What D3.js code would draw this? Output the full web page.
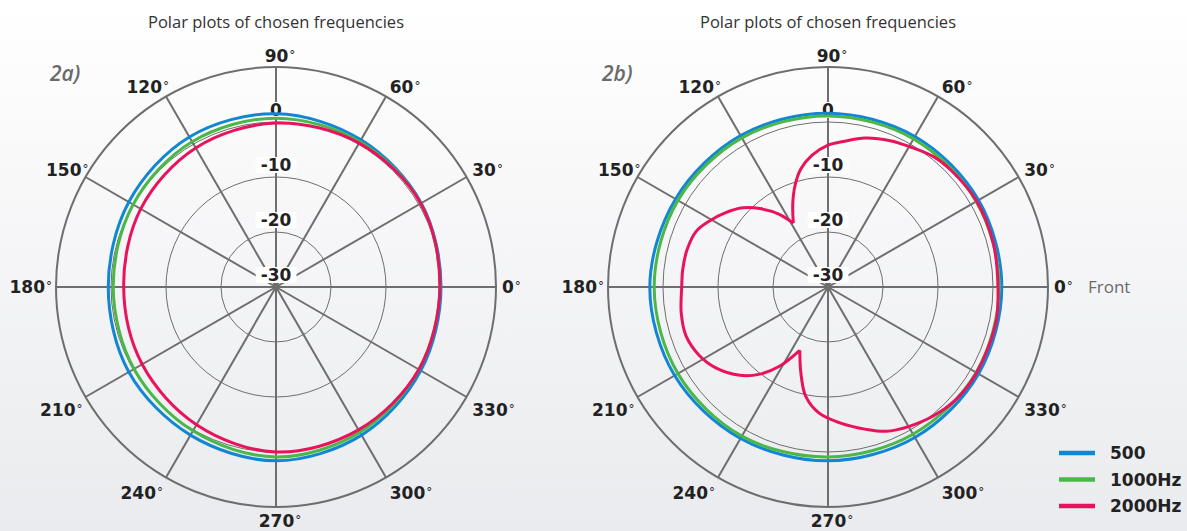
<!DOCTYPE html>
<html>
<head>
<meta charset="utf-8">
<script src="https://cdn.jsdelivr.net/npm/d3@7"></script>
<style>
  html, body { margin: 0; padding: 0; background: #fff; }
  svg { display: block; }
</style>
</head>
<body>
<svg id="chart" width="1187" height="531"></svg>
<script>
// ---------------- data ----------------
const seriesNames = ["500", "1000Hz", "2000Hz"];
const seriesColors = ["#1186d3", "#4bb748", "#e8135c"];

const angleTicks = [0, 30, 60, 90, 120, 150, 180, 210, 240, 270, 300, 330];
const dbRings = [-20, -10, 0, 10];          // drawn circles
const dbLabels = [0, -10, -20, -30];        // radial tick labels

// Plot 2a (all series sampled every 30 degrees)
const angles2a = [0, 30, 60, 90, 120, 150, 180, 210, 240, 270, 300, 330];
const blue2a  = [0.0, 0.5, 0.9, 1.5, 1.5, 0.9, 0.5, 0.9, 1.1, 1.6, 1.1, 0.4];
const green2a = [-0.2, 0.4, 0.5, 0.7, 0.5, 0.0, -0.4, -0.2, 0.2, 0.9, 0.5, 0.0];
const red2a   = [-0.2, 0.4, 0.2, -0.2, -0.8, -1.6, -2.3, -1.9, -1.1, 0.0, 0.0, 0.0];

// Plot 2b
const angles2b = [0, 30, 60, 90, 120, 150, 180, 210, 240, 270, 300, 330];
const blue2b  = [1.6, 1.6, 1.6, 1.6, 1.8, 2.0, 2.4, 2.2, 1.8, 1.6, 1.6, 1.6];
const green2b = [1.1, 1.1, 1.1, 1.1, 1.3, 1.5, 1.6, 1.5, 1.3, 0.9, 0.9, 1.1];
const redAngles2b = [0, 15, 30, 43, 51, 60, 67, 76, 84, 90, 97, 103, 108, 113, 118.5,
  124, 131, 137, 144, 151, 157, 165, 173, 180, 190, 199, 208, 216, 225, 232, 238.5, 246,
  252.5, 258.5, 266, 275, 285, 292, 300, 309, 319, 330, 348];
const red2b = [0.9, 1.1, 1.2, 0.85, 0.5, -0.5, -1.1, -2.1, -3.4, -4.2, -5.9, -8.0, -10.6, -13.6, -16.8,
  -14.0, -11.1, -8.9, -7.0, -5.3, -4.0, -3.5, -3.4, -3.4, -2.9, -2.7, -3.5, -4.9, -7.3, -9.9, -13.1, -17.4,
  -13.6, -9.7, -7.0, -5.2, -3.2, -1.7, -0.7, 0.25, 1.0, 1.2, 1.2];
const redCusps2b = [118.5, 246];

const titleText = "Polar plots of chosen frequencies";
const panelNames = ["2a)", "2b)"];
const frontText = "Front";

// ---------------- layout ----------------
const W = 1187, H = 531;
const R = 220;
const svg = d3.select("#chart");

const defs = svg.append("defs");
const grad = defs.append("linearGradient").attr("id", "bg").attr("x1", 0).attr("y1", 0).attr("x2", 0).attr("y2", 1);
grad.append("stop").attr("offset", "0%").attr("stop-color", "#ffffff");
grad.append("stop").attr("offset", "100%").attr("stop-color", "#eaebee");
svg.append("rect").attr("width", W).attr("height", H).attr("fill", "url(#bg)");

const rScale = d3.scaleLinear().domain([-30, 10]).range([0, R]);
const toRad = a => (90 - a) * Math.PI / 180;   // d3 radial angle (0 = up, clockwise)

const labelFont = "'DejaVu Sans', sans-serif";

function polar(cx, cy, opts) {
  const g = svg.append("g").attr("transform", `translate(${cx},${cy})`);

  // title
  svg.append("text").attr("x", cx).attr("y", 28).attr("text-anchor", "middle")
    .attr("font-family", "'Open Sans', sans-serif").attr("font-size", 16.5)
    .attr("fill", "#333").text(titleText);

  // panel name
  svg.append("text").attr("x", cx - 226).attr("y", 81)
    .attr("font-family", "'Open Sans', sans-serif").attr("font-style", "italic")
    .attr("font-weight", 600)
    .attr("font-size", 21).attr("fill", "#6a6a6a").text(opts.panel);

  // rings
  g.selectAll("circle.ring").data(dbRings).join("circle")
    .attr("r", d => rScale(d)).attr("fill", "none").attr("stroke", "#6e6e6e")
    .attr("stroke-width", d => d === 10 ? 2 : 1);

  // spokes
  g.selectAll("line.spoke").data(angleTicks).join("line")
    .attr("x1", 0).attr("y1", 0)
    .attr("x2", d => R * Math.cos(d * Math.PI / 180))
    .attr("y2", d => -R * Math.sin(d * Math.PI / 180))
    .attr("stroke", "#6e6e6e").attr("stroke-width", 2);

  // angle labels
  angleTicks.forEach(a => {
    const c = Math.cos(a * Math.PI / 180), s = Math.sin(a * Math.PI / 180);
    const ex = R * c, ey = -R * s;
    let x, y, anchor;
    if (Math.abs(c) < 0.1) {
      anchor = "middle"; x = ex + 4; y = s > 0 ? ey - 5 : ey + 20;
    } else if (Math.abs(s) < 0.1) {
      anchor = c > 0 ? "start" : "end"; x = c > 0 ? ex + 6 : ex - 4; y = ey + 6;
    } else {
      anchor = c > 0 ? "start" : "end";
      x = c > 0 ? ex + 1 + 5.5 * Math.abs(c) : ex + (s > 0 ? 3 : -3);
      y = s > 0 ? ey + 2 - 6 * s : ey + 14 + 9 * Math.abs(s);
    }
    const t = g.append("text").attr("x", x).attr("y", y).attr("text-anchor", anchor)
      .attr("font-family", labelFont).attr("font-weight", "bold").attr("font-size", 17)
      .attr("fill", "#222");
    t.append("tspan").text(a);
    t.append("tspan").attr("font-size", 12).attr("font-weight", "normal").attr("dx", 1).attr("dy", -3).text("°");
    if (a === 0 && opts.front) {
      g.append("text").attr("x", x + 34).attr("y", y).attr("font-family", "'Open Sans', sans-serif")
        .attr("font-size", 17).attr("fill", "#6a6a6a").text(frontText);
    }
  });

  // radial labels with white background
  const lg = g.append("g");
  dbLabels.forEach(d => {
    const r = rScale(d);
    const yb = -(r + 6);
    const t = lg.append("text").attr("x", 0).attr("y", yb).attr("text-anchor", "middle")
      .attr("font-family", labelFont).attr("font-weight", "bold").attr("font-size", 17)
      .attr("fill", "#222").text(d);
    const bb = t.node().getBBox();
    lg.insert("rect", "text").attr("x", bb.x - 5).attr("y", yb - 14).attr("width", bb.width + 10)
      .attr("height", 16).attr("fill", "#fff");
  });

  // curves
  opts.series.forEach(sr => {
    const pts = sr.angles.map((a, i) => ({ a, v: sr.values[i] }));
    const line = d3.lineRadial().angle(p => toRad(p.a)).radius(p => rScale(p.v));
    if (!sr.cusps) {
      g.append("path").attr("d", line.curve(d3.curveCatmullRomClosed.alpha(0.5))(pts))
        .attr("fill", "none").attr("stroke", sr.color).attr("stroke-width", 3);
    } else {
      // split into open segments at cusps so the cusps stay sharp
      const idx = sr.cusps.map(c => sr.angles.indexOf(c)).sort((a, b) => a - b);
      const n = pts.length;
      const segs = [];
      for (let k = 0; k < idx.length; k++) {
        const s0 = idx[k], s1 = idx[(k + 1) % idx.length];
        const seg = [];
        let i = s0;
        seg.push(pts[i]);
        do { i = (i + 1) % n; seg.push(pts[i]); } while (i !== s1);
        segs.push(seg);
      }
      segs.forEach(seg => {
        g.append("path").attr("d", line.curve(d3.curveCatmullRom.alpha(0.5))(seg))
          .attr("fill", "none").attr("stroke", sr.color).attr("stroke-width", 3)
          .attr("stroke-linejoin", "round");
      });
    }
  });
}

polar(276, 287, {
  panel: panelNames[0], front: false,
  series: [
    { angles: angles2a, values: blue2a, color: seriesColors[0] },
    { angles: angles2a, values: green2a, color: seriesColors[1] },
    { angles: angles2a, values: red2a, color: seriesColors[2] }
  ]
});
polar(828, 287, {
  panel: panelNames[1], front: true,
  series: [
    { angles: angles2b, values: blue2b, color: seriesColors[0] },
    { angles: angles2b, values: green2b, color: seriesColors[1] },
    { angles: redAngles2b, values: red2b, color: seriesColors[2], cusps: redCusps2b }
  ]
});

// legend
const leg = svg.append("g");
seriesNames.forEach((name, i) => {
  const y = 453 + i * 26.5;
  leg.append("line").attr("x1", 1059).attr("x2", 1095).attr("y1", y).attr("y2", y)
    .attr("stroke", seriesColors[i]).attr("stroke-width", 4.5);
  leg.append("text").attr("x", 1110).attr("y", y + 6)
    .attr("font-family", labelFont).attr("font-weight", "bold").attr("font-size", 17)
    .attr("fill", "#222").text(name);
});
</script>
</body>
</html>
